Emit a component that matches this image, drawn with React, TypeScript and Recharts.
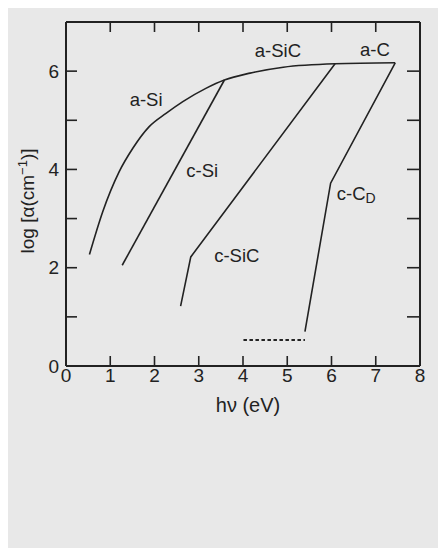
import React from 'react';
import { ComposedChart, Line, XAxis, YAxis, Scatter } from 'recharts';

const FONT = '"Liberation Sans", Arial, Helvetica, sans-serif';
const INK = '#222222';

// tick values
const xTicks = [0, 1, 2, 3, 4, 5, 6, 7, 8];
const xTopTicks = [1, 2, 3, 4, 5, 6, 7];
const yTicks = [0, 1, 2, 3, 4, 5, 6];
const yRightTicks = [1, 2, 3, 4, 5, 6];
const yLabelled = [0, 2, 4, 6];

// e = photon energy hν (eV), a = log α (cm^-1)
const amorphousEnvelope = [
  { e: 0.53, a: 2.27 },
  { e: 0.83, a: 3.14 },
  { e: 1.2, a: 3.95 },
  { e: 1.51, a: 4.43 },
  { e: 1.88, a: 4.87 },
  { e: 2.26, a: 5.14 },
  { e: 2.64, a: 5.38 },
  { e: 3.16, a: 5.65 },
  { e: 3.58, a: 5.82 },
  { e: 4.16, a: 5.96 },
  { e: 4.91, a: 6.08 },
  { e: 6.08, a: 6.15 },
  { e: 7.44, a: 6.17 },
];
const cSi = [
  { e: 1.27, a: 2.05 },
  { e: 3.58, a: 5.82 },
];
const cSiC = [
  { e: 2.59, a: 1.22 },
  { e: 2.82, a: 2.22 },
  { e: 6.08, a: 6.15 },
];
const cCD = [
  { e: 5.4, a: 0.7 },
  { e: 5.98, a: 3.72 },
  { e: 7.44, a: 6.17 },
];
const cCDTail = [
  { e: 4.01, a: 0.53 },
  { e: 5.4, a: 0.53 },
];

const annotations = [
  { e: 1.81, a: 5.43, text: 'a-Si', sub: '' },
  { e: 3.08, a: 3.98, text: 'c-Si', sub: '' },
  { e: 4.79, a: 6.43, text: 'a-SiC', sub: '' },
  { e: 6.98, a: 6.45, text: 'a-C', sub: '' },
  { e: 3.86, a: 2.26, text: 'c-SiC', sub: '' },
  { e: 6.56, a: 3.52, text: 'c-C', sub: 'D' },
];

const AnnotationShape = (props: any) => {
  const { cx, cy } = props;
  const p = props.payload || props;
  if (cx == null || cy == null) return null;
  return (
    <text
      x={cx}
      y={cy + 6.6}
      textAnchor="middle"
      fontFamily={FONT}
      fontSize={18.5}
      fill={INK}
    >
      {p.text}
      {p.sub ? (
        <tspan fontSize={14} dy={3}>
          {p.sub}
        </tspan>
      ) : null}
    </text>
  );
};

const XLabel = (props: any) => {
  const vb = props.viewBox || { x: 0, y: 0, width: 0, height: 0 };
  return (
    <text
      x={vb.x + vb.width / 2 + 5}
      y={vb.y + 46}
      textAnchor="middle"
      fontFamily={FONT}
      fontSize={20}
      fill={INK}
    >
      hν (eV)
    </text>
  );
};

const YLabel = (props: any) => {
  const vb = props.viewBox || { x: 0, y: 0, width: 0, height: 0 };
  const x = vb.x + 18;
  const y = vb.y + vb.height / 2 + 7;
  return (
    <text
      x={x}
      y={y}
      transform={`rotate(-90, ${x}, ${y})`}
      textAnchor="middle"
      fontFamily={FONT}
      fontSize={19}
      fill={INK}
    >
      log [α(cm
      <tspan fontSize={13} dy={-7}>
        −1
      </tspan>
      <tspan dy={7}>)]</tspan>
    </text>
  );
};

const axisLine = { stroke: INK, strokeWidth: 2 };
const tickLine = { stroke: INK, strokeWidth: 1.6 };
const tickStyle = { fontFamily: FONT, fontSize: 19, fill: INK };

export default function App() {
  return (
    <div style={{ width: 438, height: 540, background: '#e8e8e8' }}>
      <ComposedChart
        width={438}
        height={540}
        margin={{ top: 13, right: 25, left: 8, bottom: 122 }}
      >
        <XAxis
          xAxisId="bottom"
          dataKey="e"
          type="number"
          domain={[0, 8]}
          ticks={xTicks}
          interval={0}
          orientation="bottom"
          height={60}
          axisLine={axisLine}
          tickLine={tickLine}
          tickSize={-10}
          tickMargin={13}
          tick={tickStyle}
          allowDataOverflow
          label={<XLabel />}
        />
        <XAxis
          xAxisId="top"
          dataKey="e"
          type="number"
          domain={[0, 8]}
          ticks={xTopTicks}
          interval={0}
          orientation="top"
          height={1}
          axisLine={axisLine}
          tickLine={tickLine}
          tickSize={-10}
          tickFormatter={() => ''}
          allowDataOverflow
        />
        <YAxis
          yAxisId="left"
          type="number"
          domain={[0, 7]}
          ticks={yTicks}
          interval={0}
          orientation="left"
          width={50}
          axisLine={axisLine}
          tickLine={tickLine}
          tickSize={-11}
          tickMargin={18}
          tick={tickStyle}
          tickFormatter={(v: number) => (yLabelled.includes(v) ? String(v) : '')}
          allowDataOverflow
          label={<YLabel />}
        />
        <YAxis
          yAxisId="right"
          type="number"
          domain={[0, 7]}
          ticks={yRightTicks}
          interval={0}
          orientation="right"
          width={1}
          axisLine={axisLine}
          tickLine={tickLine}
          tickSize={-13}
          tickFormatter={() => ''}
          allowDataOverflow
        />
        <Line
          xAxisId="bottom"
          yAxisId="left"
          data={amorphousEnvelope}
          dataKey="a"
          type="monotone"
          stroke={INK}
          strokeWidth={1.6}
          dot={false}
          isAnimationActive={false}
        />
        <Line
          xAxisId="bottom"
          yAxisId="left"
          data={cSi}
          dataKey="a"
          type="linear"
          stroke={INK}
          strokeWidth={1.6}
          dot={false}
          isAnimationActive={false}
        />
        <Line
          xAxisId="bottom"
          yAxisId="left"
          data={cSiC}
          dataKey="a"
          type="linear"
          stroke={INK}
          strokeWidth={1.6}
          dot={false}
          isAnimationActive={false}
        />
        <Line
          xAxisId="bottom"
          yAxisId="left"
          data={cCD}
          dataKey="a"
          type="linear"
          stroke={INK}
          strokeWidth={1.6}
          dot={false}
          isAnimationActive={false}
        />
        <Line
          xAxisId="bottom"
          yAxisId="left"
          data={cCDTail}
          dataKey="a"
          type="linear"
          stroke={INK}
          strokeWidth={2}
          strokeDasharray="3.5 2.5"
          dot={false}
          isAnimationActive={false}
        />
        <Scatter
          xAxisId="bottom"
          yAxisId="left"
          data={annotations}
          dataKey="a"
          shape={<AnnotationShape />}
          isAnimationActive={false}
        />
      </ComposedChart>
    </div>
  );
}
